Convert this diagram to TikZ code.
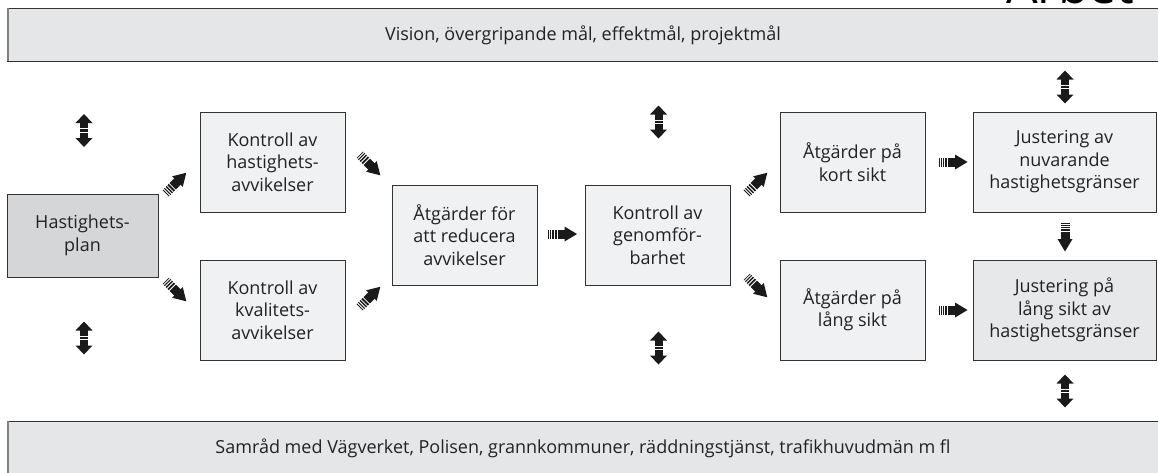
\documentclass[tikz,border=0pt]{standalone}
\usepackage{fontspec}
\setmainfont{Open Sans}
\definecolor{bannerfill}{HTML}{E5E6E8}
\definecolor{planfill}{HTML}{D5D6D8}
\definecolor{boxfill}{HTML}{F0F1F2}
\definecolor{boxfilltwo}{HTML}{E7E8EA}
\definecolor{txt}{HTML}{222222}
\definecolor{arr}{HTML}{1A1A1A}
\tikzset{
  box/.style={draw=black!80, line width=0.9pt, fill=boxfill, minimum width=145pt,
    minimum height=100pt, align=center, inner sep=2pt, text=txt},
  banner/.style={draw=black!80, line width=0.9pt, fill=bannerfill},
  sarrow/.pic={
    \fill[arr] (-14.5,-4.5) rectangle (-13.7,4.5);
    \fill[arr] (-12.5,-4.5) rectangle (-11.4,4.5);
    \fill[arr] (-10.2,-4.5) rectangle (-8.8,4.5);
    \fill[arr] (-7.6,-4.5) rectangle (-5.8,4.5);
    \fill[arr] (-4.6,-4.5) rectangle (2.5,4.5);
    \fill[arr] (2,-7.5) -- (14.5,0) -- (2,7.5) -- cycle;
  },
  dblarrow/.pic={
    \fill[arr] (0,-16.5) -- (8.5,-7.5) -- (-8.5,-7.5) -- cycle;
    \fill[arr] (0,16.5) -- (8.5,7.5) -- (-8.5,7.5) -- cycle;
    \fill[arr] (-4,-8) rectangle (4,8);
    \fill[white] (-4,-2.2) rectangle (4,-1.2);
    \fill[white] (-4,1.2) rectangle (4,2.2);
  }
}
\begin{document}
\begin{tikzpicture}[x=1pt,y=-1pt,font=\fontsize{18}{22.5}\selectfont]
\useasboundingbox (0,0) rectangle (1158,472);
\clip (0,0) rectangle (1158,472);
% cut-off heading
\node[anchor=base west, inner sep=0pt, font=\fontsize{50}{50}\selectfont, text=black] (head) at (1006,3) {Arbet};
% banners
\draw[banner] (7,8) rectangle (1175,61);
\draw[gray, line width=2pt] (7.5,8) -- (7.5,61);
\node[text=txt] (vision) at (583,35) {Vision, övergripande mål, effektmål, projektmål};
\draw[banner] (7,421) rectangle (1175,490);
\draw[gray, line width=2pt] (7.5,421) -- (7.5,490);
\node[text=txt] (samrad) at (583,448) {Samråd med Vägverket, Polisen, grannkommuner, räddningstjänst, trafikhuvudmän m fl};
% boxes
\node[box, fill=planfill, minimum width=151pt, minimum height=83pt] (hp) at (82.5,235.5) {Hastighets-\\plan};
\node[box] (k1) at (272.5,162) {Kontroll av\\hastighets-\\avvikelser};
\node[box] (k2) at (272.5,310) {Kontroll av\\kvalitets-\\avvikelser};
\node[box] (ar) at (464.5,235) {Åtgärder för\\att reducera\\avvikelser};
\node[box] (kg) at (657.5,235) {Kontroll av\\genomför-\\barhet};
\node[box] (ak) at (852.5,162) {Åtgärder på\\kort sikt};
\node[box] (al) at (852.5,310) {Åtgärder på\\lång sikt};
\node[box, minimum width=183pt] (jn) at (1064.5,162) {Justering av\\nuvarande\\hastighetsgränser};
\node[box, fill=boxfilltwo, minimum width=183pt] (jl) at (1064.5,310) {Justering på\\lång sikt av\\hastighetsgränser};
% striped arrows
\pic[rotate=45] at (176,183) {sarrow};
\pic[rotate=-45] at (176,291) {sarrow};
\pic[rotate=-45] at (370,165) {sarrow};
\pic[rotate=45] at (370,297) {sarrow};
\pic at (562.5,234) {sarrow};
\pic[rotate=45] at (757,183) {sarrow};
\pic[rotate=-45] at (757,287) {sarrow};
\pic at (953,162) {sarrow};
\pic at (953,310) {sarrow};
\pic[rotate=-90] at (1065,237) {sarrow};
% double arrows
\pic at (84,130.5) {dblarrow};
\pic at (84,338) {dblarrow};
\pic at (658.5,122) {dblarrow};
\pic at (658.5,348) {dblarrow};
\pic at (1065,87) {dblarrow};
\pic at (1065,391) {dblarrow};
\end{tikzpicture}
\end{document}
